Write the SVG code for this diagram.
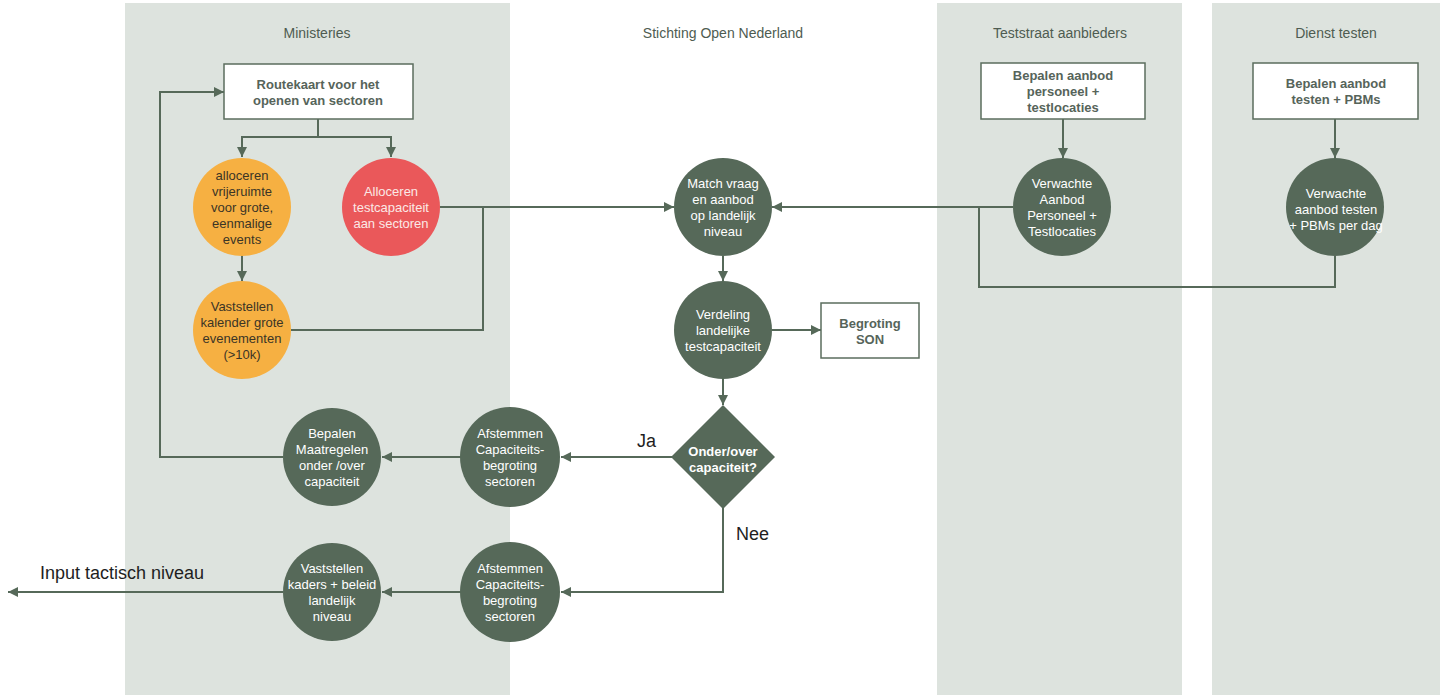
<svg xmlns="http://www.w3.org/2000/svg" width="1442" height="695" viewBox="0 0 1442 695">
<style>
.lane{fill:#dde3de}
.title{font-family:"Liberation Sans",Arial,sans-serif;font-size:14px;fill:#4e5c51;text-anchor:middle}
.box{fill:#ffffff;stroke:#5b6d5e;stroke-width:1.5}
.btxt{font-family:"Liberation Sans",Arial,sans-serif;font-size:13px;font-weight:bold;fill:#56645a;text-anchor:middle}
.dark{fill:#566959}
.orange{fill:#f6b042}
.red{fill:#ea585a}
.wtxt{font-family:"Liberation Sans",Arial,sans-serif;font-size:13px;fill:#ffffff;text-anchor:middle}
.otxt{font-family:"Liberation Sans",Arial,sans-serif;font-size:13px;fill:#3b3526;text-anchor:middle}
.rtxt{font-family:"Liberation Sans",Arial,sans-serif;font-size:13px;fill:#fbe8e6;text-anchor:middle}
.dtxt{font-family:"Liberation Sans",Arial,sans-serif;font-size:13px;font-weight:bold;fill:#ffffff;text-anchor:middle}
.lbl{font-family:"Liberation Sans",Arial,sans-serif;font-size:18px;fill:#1e1e1e}
.con{fill:none;stroke:#566959;stroke-width:2}
</style>
<defs>
<marker id="arr" viewBox="0 0 10 10" refX="10" refY="5" markerWidth="10" markerHeight="10" markerUnits="userSpaceOnUse" orient="auto">
<path d="M0,0 L10,5 L0,10 z" fill="#566959"/>
</marker>
</defs>

<g id="lanes">
<rect class="lane" x="125" y="3" width="385" height="692"/>
<rect class="lane" x="937" y="3" width="245" height="692"/>
<rect class="lane" x="1212" y="3" width="228" height="692"/>
<text class="title" x="317" y="38">Ministeries</text>
<text class="title" x="723" y="38">Stichting Open Nederland</text>
<text class="title" x="1060" y="38">Teststraat aanbieders</text>
<text class="title" x="1336" y="38">Dienst testen</text>
</g>

<g id="connectors">
<path class="con" d="M318,119 V137 H242 V157" marker-end="url(#arr)"/>
<path class="con" d="M318,137 H391 V157" marker-end="url(#arr)"/>
<path class="con" d="M242,255 V281" marker-end="url(#arr)"/>
<path class="con" d="M440,207 H674" marker-end="url(#arr)"/>
<path class="con" d="M291,330 H483 V207"/>
<path class="con" d="M723,256 V281" marker-end="url(#arr)"/>
<path class="con" d="M772,330 H821" marker-end="url(#arr)"/>
<path class="con" d="M723,379 V405" marker-end="url(#arr)"/>
<path class="con" d="M1013,207 H772" marker-end="url(#arr)"/>
<path class="con" d="M1335,256 V287 H979 V207"/>
<path class="con" d="M1063,119 V158" marker-end="url(#arr)"/>
<path class="con" d="M1335,119 V158" marker-end="url(#arr)"/>
<path class="con" d="M672,457 H561" marker-end="url(#arr)"/>
<path class="con" d="M461,457 H382" marker-end="url(#arr)"/>
<path class="con" d="M283,457 H160 V92 H224" marker-end="url(#arr)"/>
<path class="con" d="M723,508 V592 H561" marker-end="url(#arr)"/>
<path class="con" d="M461,592 H382" marker-end="url(#arr)"/>
<path class="con" d="M283,592 H8" marker-end="url(#arr)"/>
<text class="lbl" x="637" y="447">Ja</text>
<text class="lbl" x="736" y="540">Nee</text>
<text class="lbl" x="40" y="579">Input tactisch niveau</text>
</g>

<g id="routekaart">
<rect class="box" x="224" y="64" width="189" height="55"/>
<text class="btxt" x="318" y="89">Routekaart voor het</text>
<text class="btxt" x="318" y="105">openen van sectoren</text>
</g>

<g id="vrije-ruimte">
<circle class="orange" cx="242" cy="207" r="49"/>
<text class="otxt" x="242" y="180">alloceren</text>
<text class="otxt" x="242" y="196">vrijeruimte</text>
<text class="otxt" x="242" y="212">voor grote,</text>
<text class="otxt" x="242" y="228">eenmalige</text>
<text class="otxt" x="242" y="244">events</text>
</g>

<g id="alloceren-testcapaciteit">
<circle class="red" cx="391" cy="207" r="49"/>
<text class="rtxt" x="391" y="196">Alloceren</text>
<text class="rtxt" x="391" y="212">testcapaciteit</text>
<text class="rtxt" x="391" y="228">aan sectoren</text>
</g>

<g id="kalender">
<circle class="orange" cx="242" cy="330" r="49"/>
<text class="otxt" x="242" y="311">Vaststellen</text>
<text class="otxt" x="242" y="327">kalender grote</text>
<text class="otxt" x="242" y="343">evenementen</text>
<text class="otxt" x="242" y="359">(&gt;10k)</text>
</g>

<g id="match">
<circle class="dark" cx="723" cy="207" r="49"/>
<text class="wtxt" x="723" y="188">Match vraag</text>
<text class="wtxt" x="723" y="204">en aanbod</text>
<text class="wtxt" x="723" y="220">op landelijk</text>
<text class="wtxt" x="723" y="236">niveau</text>
</g>

<g id="verdeling">
<circle class="dark" cx="723" cy="330" r="49"/>
<text class="wtxt" x="723" y="319">Verdeling</text>
<text class="wtxt" x="723" y="335">landelijke</text>
<text class="wtxt" x="723" y="351">testcapaciteit</text>
</g>

<g id="begroting-son">
<rect class="box" x="821" y="303" width="98" height="55"/>
<text class="btxt" x="870" y="328">Begroting</text>
<text class="btxt" x="870" y="344">SON</text>
</g>

<g id="onder-over">
<polygon class="dark" points="723,405 775,457 723,509 671,457"/>
<text class="dtxt" x="723" y="456">Onder/over</text>
<text class="dtxt" x="723" y="472">capaciteit?</text>
</g>

<g id="afstemmen-1">
<circle class="dark" cx="510" cy="457" r="50"/>
<text class="wtxt" x="510" y="438">Afstemmen</text>
<text class="wtxt" x="510" y="454">Capaciteits-</text>
<text class="wtxt" x="510" y="470">begroting</text>
<text class="wtxt" x="510" y="486">sectoren</text>
</g>

<g id="bepalen-maatregelen">
<circle class="dark" cx="332" cy="457" r="49"/>
<text class="wtxt" x="332" y="438">Bepalen</text>
<text class="wtxt" x="332" y="454">Maatregelen</text>
<text class="wtxt" x="332" y="470">onder /over</text>
<text class="wtxt" x="332" y="486">capaciteit</text>
</g>

<g id="afstemmen-2">
<circle class="dark" cx="510" cy="592" r="50"/>
<text class="wtxt" x="510" y="573">Afstemmen</text>
<text class="wtxt" x="510" y="589">Capaciteits-</text>
<text class="wtxt" x="510" y="605">begroting</text>
<text class="wtxt" x="510" y="621">sectoren</text>
</g>

<g id="vaststellen-kaders">
<circle class="dark" cx="332" cy="592" r="49"/>
<text class="wtxt" x="332" y="573">Vaststellen</text>
<text class="wtxt" x="332" y="589">kaders + beleid</text>
<text class="wtxt" x="332" y="605">landelijk</text>
<text class="wtxt" x="332" y="621">niveau</text>
</g>

<g id="bepalen-personeel">
<rect class="box" x="981" y="63" width="164" height="56"/>
<text class="btxt" x="1063" y="80">Bepalen aanbod</text>
<text class="btxt" x="1063" y="96">personeel +</text>
<text class="btxt" x="1063" y="112">testlocaties</text>
</g>

<g id="verwachte-personeel">
<circle class="dark" cx="1062" cy="207" r="49"/>
<text class="wtxt" x="1062" y="188">Verwachte</text>
<text class="wtxt" x="1062" y="204">Aanbod</text>
<text class="wtxt" x="1062" y="220">Personeel +</text>
<text class="wtxt" x="1062" y="236">Testlocaties</text>
</g>

<g id="bepalen-testen">
<rect class="box" x="1253" y="63" width="165" height="56"/>
<text class="btxt" x="1336" y="88">Bepalen aanbod</text>
<text class="btxt" x="1336" y="104">testen + PBMs</text>
</g>

<g id="verwachte-testen">
<circle class="dark" cx="1335" cy="207" r="49"/>
<text class="wtxt" x="1336" y="198">Verwachte</text>
<text class="wtxt" x="1336" y="214">aanbod testen</text>
<text class="wtxt" x="1336" y="230">+ PBMs per dag</text>
</g>
</svg>
